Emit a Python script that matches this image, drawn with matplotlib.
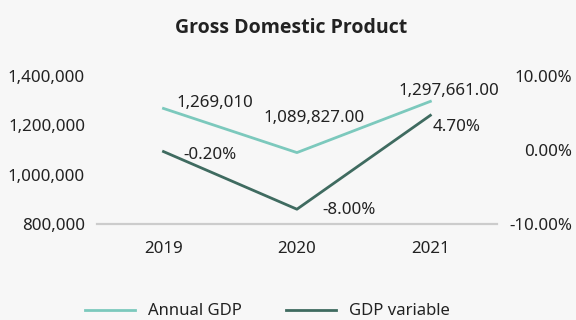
import matplotlib
matplotlib.use("Agg")
import matplotlib.pyplot as plt
from matplotlib import font_manager
from matplotlib.ticker import FuncFormatter

plt.rcParams['font.family'] = ['Noto Sans', 'DejaVu Sans']

years = ["2019", "2020", "2021"]
annual_gdp = [1269010, 1089827, 1297661]
gdp_variable = [-0.20, -8.00, 4.70]
gdp_labels = ["1,269,010", "1,089,827.00", "1,297,661.00"]
var_labels = ["-0.20%", "-8.00%", "4.70%"]

left_ticks = [800000, 1000000, 1200000, 1400000]
right_ticks = [-10, 0, 10]

light = "#7cc9bd"
dark = "#3f6b60"
bg = "#f7f7f7"
text_color = "#222222"
fs = 12.2

names = {f.name for f in font_manager.fontManager.ttflist
         if f.weight in (700, "bold")}
title_family = [n for n in ["Noto Sans", "Open Sans", "Lato", "DejaVu Sans"] if n in names][:1] or ["DejaVu Sans"]

fig = plt.figure(figsize=(5.76, 3.2), dpi=100, facecolor=bg)
ax = fig.add_axes([0.168, 0.30, 0.695, 0.462], facecolor=bg)
ax2 = ax.twinx()

x = list(range(len(years)))
l1, = ax.plot(x, annual_gdp, color=light, lw=2, label="Annual GDP")
l2, = ax2.plot(x, gdp_variable, color=dark, lw=2, label="GDP variable")

ax.set_xlim(-0.5, 2.5)
ax.set_ylim(800000, 1400000)
ax2.set_ylim(-10, 10)
ax.set_xticks(x)
ax.set_xticklabels(years)
ax.set_yticks(left_ticks)
ax.yaxis.set_major_formatter(FuncFormatter(lambda v, p: f"{int(v):,}"))
ax2.set_yticks(right_ticks)
ax2.yaxis.set_major_formatter(FuncFormatter(lambda v, p: f"{v:.2f}%"))

for a in (ax, ax2):
    for s in a.spines.values():
        s.set_visible(False)
    a.tick_params(length=0, labelsize=fs, colors=text_color)
ax.tick_params(axis='y', pad=8.5)
ax2.tick_params(axis='y', pad=54)
for lbl in ax2.get_yticklabels():
    lbl.set_horizontalalignment("right")
ax.tick_params(axis='x', pad=12)
ax.spines['bottom'].set_visible(True)
ax.spines['bottom'].set_color("#cccccc")
ax.spines['bottom'].set_linewidth(1.6)

gdp_offsets = [(13, 5), (17, 35), (18, 10)]
var_offsets = [(20, -3), (25, -1), (2, -12)]
for xi, v, t, (dx, dy) in zip(x, annual_gdp, gdp_labels, gdp_offsets):
    ax.annotate(t, (xi, v), xytext=(dx, dy), textcoords="offset pixels",
                ha="left" if xi == 0 else "center", va="center",
                fontsize=fs, color=text_color)
for xi, v, t, (dx, dy) in zip(x, gdp_variable, var_labels, var_offsets):
    ax2.annotate(t, (xi, v), xytext=(dx, dy), textcoords="offset pixels",
                 ha="left", va="center", fontsize=fs, color=text_color)

fig.text(291 / 576, 0.912, "Gross Domestic Product", ha="center", va="center",
         fontsize=14, fontweight="bold", family=title_family, color=text_color)

fig.legend([l1, l2], ["Annual GDP", "GDP variable"], loc="center left",
           bbox_to_anchor=(85 / 576, 0.027), ncol=2, frameon=False, fontsize=12,
           handlelength=3.0, columnspacing=2.6, handletextpad=0.8,
           borderpad=0, borderaxespad=0, labelcolor=text_color)

fig.savefig("out.png", dpi=100, facecolor=bg)
